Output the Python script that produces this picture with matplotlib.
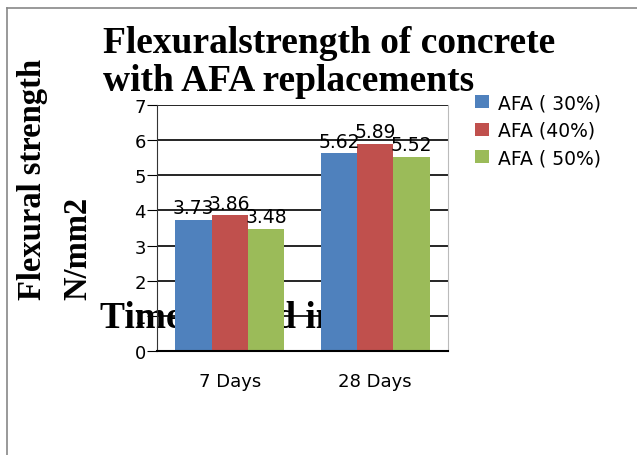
import matplotlib
matplotlib.use("Agg")
import matplotlib.pyplot as plt
import numpy as np
from matplotlib.lines import Line2D

categories = ["7 Days", "28 Days"]
series_names = ["AFA ( 30%)", "AFA (40%)", "AFA ( 50%)"]
afa30 = [3.73, 5.62]
afa40 = [3.86, 5.89]
afa50 = [3.48, 5.52]
colors = ["#4F81BD", "#C0504D", "#9BBB59"]

fig = plt.figure(figsize=(6.37, 4.56), dpi=100)
fig.patch.set_facecolor("white")
ax = fig.add_axes([157/637, 1-352/456, 291/637, 246/456])

x = np.arange(len(categories))
w = 0.25
for i, (vals, name) in enumerate(zip([afa30, afa40, afa50], series_names)):
    bars = ax.bar(x + (i-1)*w, vals, w, color=colors[i], label=name, zorder=2)
    for b, v in zip(bars, vals):
        ax.annotate(f"{v:.2f}", (b.get_x()+b.get_width()/2, v), xytext=(0, 2),
                    textcoords="offset points", ha="center", va="bottom",
                    fontsize=13.5, zorder=3)

ax.set_xlim(-0.5, 1.5)
ax.set_ylim(0, 7)
ax.set_yticks(range(0, 8))
ax.set_xticks(x)
ax.set_xticklabels(categories, fontsize=13)
ax.tick_params(axis="y", labelsize=13, length=7, pad=1, direction="out")
ax.tick_params(axis="x", length=0, pad=15)
ax.yaxis.grid(True, color="black", linewidth=1.2)
ax.set_axisbelow(True)
ax.spines["top"].set_visible(False)
ax.spines["right"].set_color("#bbbbbb")
ax.spines["left"].set_color("#333333")
ax.spines["bottom"].set_linewidth(1.5)

serif = "Liberation Serif"
fig.text(103/637, 1-53/456, "Flexuralstrength of concrete", ha="left", va="baseline",
         fontsize=27, fontweight="bold", family=serif)
fig.text(103/637, 1-91/456, "with AFA replacements", ha="left", va="baseline",
         fontsize=27, fontweight="bold", family=serif)
fig.text(33/637, 1-300/456, "Flexural strength", rotation=90, ha="center", va="bottom",
         fontsize=23.5, fontweight="bold", family=serif)
fig.text(78/637, 1-300/456, "N/mm2", rotation=90, ha="center", va="bottom",
         fontsize=23.5, fontweight="bold", family=serif)
ax.text(100/637, 1-328/456, "Time period in days", transform=fig.transFigure,
        ha="left", va="baseline", fontsize=27, fontweight="bold", family=serif,
        zorder=0.3, clip_on=False)

fig.legend(loc="upper left", bbox_to_anchor=(466/637, 1-85/456), frameon=False,
           fontsize=13.5, handlelength=0.7, handleheight=0.7, handletextpad=0.5,
           labelspacing=0.45, borderpad=0)

fig.add_artist(Line2D([7/637, 7/637], [0, 1-9/456], color="#888888", linewidth=1.2))
fig.add_artist(Line2D([7/637, 1], [1-9/456, 1-9/456], color="#888888", linewidth=1.2))

fig.savefig("out.png", dpi=100)
